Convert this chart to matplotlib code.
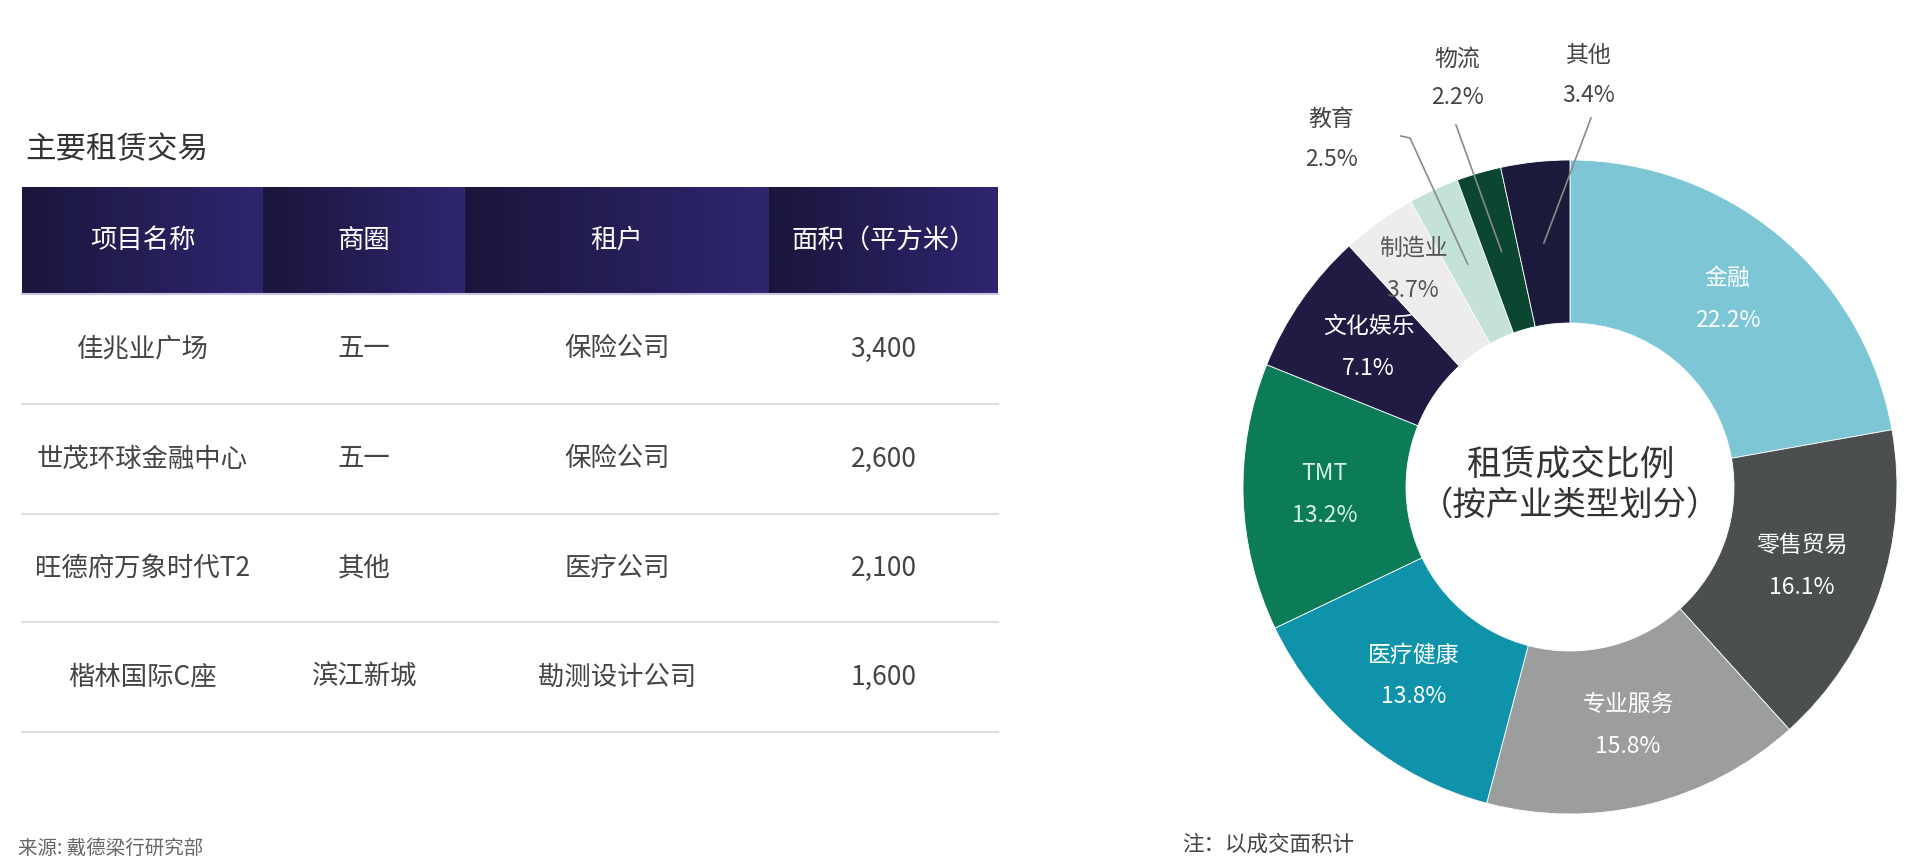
import numpy as np
import matplotlib
matplotlib.use('Agg')
import matplotlib.pyplot as plt
from matplotlib.colors import LinearSegmentedColormap

plt.rcParams['font.family'] = ['Noto Sans CJK SC', 'DejaVu Sans']

# ---- table data ----
table_title = '主要租赁交易'
headers = ['项目名称', '商圈', '租户', '面积（平方米）']
projects = ['佳兆业广场', '世茂环球金融中心', '旺德府万象时代T2', '楷林国际C座']
districts = ['五一', '五一', '其他', '滨江新城']
tenants = ['保险公司', '保险公司', '医疗公司', '勘测设计公司']
areas = [3400, 2600, 2100, 1600]
source = '来源: 戴德梁行研究部'

# ---- donut data ----
donut_title = ['租赁成交比例', '（按产业类型划分）']
sectors = ['金融', '零售贸易', '专业服务', '医疗健康', 'TMT', '文化娱乐', '制造业', '教育', '物流', '其他']
shares = [22.2, 16.1, 15.8, 13.8, 13.2, 7.1, 3.7, 2.5, 2.2, 3.4]
colors = ['#7cc6d6', '#4b4f4f', '#9b9e9d', '#0f93ab', '#0c7b57',
          '#1f1b42', '#ededed', '#c4e2d8', '#0a4630', '#1b1a3a']
label_colors = ['white', 'white', 'white', 'white', '#d8f0e6',
                'white', '#555555', '#444444', '#444444', '#444444']
note = '注：以成交面积计'

W, H = 1920, 864


def Y(v):
    # pixel from top -> data y
    return H - v


fig = plt.figure(figsize=(19.2, 8.64), dpi=100)
ax = fig.add_axes([0, 0, 1, 1])

# ---- table ----
col_x = [22, 263, 465, 769, 998]
hdr_top, hdr_bot = 187, 294
row_lines = [404, 514, 622, 732]

ax.text(25, Y(150), table_title, fontsize=22, color='#333333',
        ha='left', va='center', fontweight='medium')

hdr_cmap = LinearSegmentedColormap.from_list('hdr', ['#1a163b', '#2f2670'])
grad = np.linspace(0, 1, 128).reshape(1, -1)
for i, name in enumerate(headers):
    x0, x1 = col_x[i], col_x[i + 1]
    ax.imshow(grad, cmap=hdr_cmap, extent=(x0, x1, Y(hdr_bot), Y(hdr_top)),
              aspect='auto', zorder=1, interpolation='bilinear')
    ax.text((x0 + x1) / 2, Y((hdr_top + hdr_bot) / 2), name, color='white',
            fontsize=19, ha='center', va='center', zorder=3)
ax.plot([col_x[0], col_x[-1]], [Y(hdr_bot), Y(hdr_bot)], color='#c9c4e4', lw=1.5, zorder=2)

row_tops = [hdr_bot] + row_lines[:-1]
for r in range(len(projects)):
    yc = Y((row_tops[r] + row_lines[r]) / 2)
    cells = [projects[r], districts[r], tenants[r], f'{areas[r]:,}']
    for i, val in enumerate(cells):
        ax.text((col_x[i] + col_x[i + 1]) / 2, yc, val, fontsize=19,
                color='#444444', ha='center', va='center')
    ax.plot([col_x[0], col_x[-1]], [Y(row_lines[r]), Y(row_lines[r])],
            color='#dddddd', lw=1.5)

ax.text(18, Y(848), source, fontsize=14, color='#666666', ha='left', va='center')

# ---- donut ----
cx, cy = 1570, Y(487)
R, ring = 327, 163
wedges, _ = ax.pie(shares, colors=colors, startangle=90, counterclock=False,
                   radius=R, center=(cx, cy),
                   wedgeprops=dict(width=ring, edgecolor='white', linewidth=0.6))

outside = {'教育': ((1331, 119), (1331, 159), [(1410, 138), (1401, 136)]),
           '物流': ((1457, 59), (1457, 98), [(1456, 125)]),
           '其他': ((1589, 55), (1589, 95), [(1591, 118)])}

for i, w in enumerate(wedges):
    ang = np.deg2rad((w.theta1 + w.theta2) / 2)
    name, pct = sectors[i], f'{shares[i]:.1f}%'
    if name in outside:
        (nx, ny), (px, py), pts = outside[name]
        x0 = cx + 0.75 * R * np.cos(ang)
        y0 = cy + 0.75 * R * np.sin(ang)
        xs = [x0] + [p[0] for p in pts]
        ys = [y0] + [Y(p[1]) for p in pts]
        ax.plot(xs, ys, color='#8a8a8a', lw=1.2, zorder=3)
        ax.text(nx, Y(ny), name, fontsize=16.5, color=label_colors[i], ha='center', va='center')
        ax.text(px, Y(py), pct, fontsize=16.5, color=label_colors[i], ha='center', va='center')
    else:
        frac = 0.82 if name == '制造业' else 0.75
        lx = cx + frac * R * np.cos(ang)
        ly = cy + frac * R * np.sin(ang)
        ax.text(lx, ly + 21, name, fontsize=16.5, color=label_colors[i], ha='center', va='center')
        ax.text(lx, ly - 21, pct, fontsize=16.5, color=label_colors[i], ha='center', va='center')

ax.text(cx, Y(466), donut_title[0], fontsize=25, color='#333333', ha='center', va='center')
ax.text(cx, Y(505), donut_title[1], fontsize=24, color='#333333', ha='center', va='center')

ax.text(1182, Y(845), note, fontsize=15.5, color='#444444', ha='left', va='center')

ax.set_xlim(0, W)
ax.set_ylim(0, H)
ax.set_aspect('equal')
ax.axis('off')

fig.savefig('out.png', dpi=100, facecolor='white')
